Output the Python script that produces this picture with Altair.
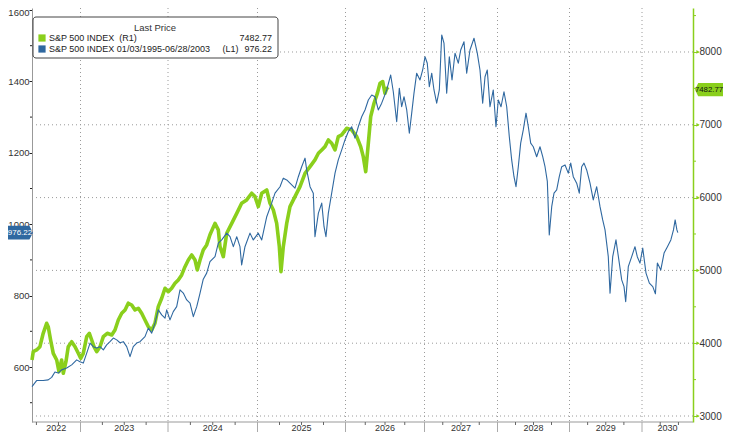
import altair as alt
import pandas as pd

# ---------------- data ----------------
# Blue: S&P 500 INDEX 01/03/1995-06/28/2003 overlaid on 2022-2030 (left axis)
BLUE = [
    (2022.45, 545), (2022.502, 562), (2022.577, 562), (2022.634, 564), (2022.673, 571),
    (2022.710, 586), (2022.748, 583), (2022.786, 592), (2022.843, 597), (2022.900, 606),
    (2022.957, 620), (2022.994, 615), (2023.032, 611), (2023.071, 639), (2023.109, 667),
    (2023.146, 657), (2023.185, 653), (2023.223, 657), (2023.261, 648), (2023.299, 662),
    (2023.337, 671), (2023.375, 681), (2023.414, 676), (2023.451, 668), (2023.489, 671),
    (2023.528, 657), (2023.566, 629), (2023.603, 657), (2023.642, 667), (2023.680, 671),
    (2023.737, 685), (2023.775, 709), (2023.814, 695), (2023.851, 723), (2023.889, 760),
    (2023.928, 746), (2023.966, 737), (2023.985, 760), (2024.022, 732), (2024.059, 755),
    (2024.097, 769), (2024.134, 816), (2024.171, 807), (2024.209, 788), (2024.246, 779),
    (2024.283, 741), (2024.321, 769), (2024.358, 807), (2024.394, 846), (2024.432, 863),
    (2024.469, 895), (2024.525, 909), (2024.562, 947), (2024.600, 956), (2024.656, 975),
    (2024.693, 965), (2024.730, 937), (2024.768, 965), (2024.804, 937), (2024.823, 886),
    (2024.860, 937), (2024.916, 975), (2024.953, 956), (2025.009, 975), (2025.048, 956),
    (2025.105, 1021), (2025.161, 1059), (2025.199, 1087), (2025.256, 1105), (2025.293, 1129),
    (2025.332, 1124), (2025.369, 1115), (2025.426, 1101), (2025.464, 1133), (2025.502, 1161),
    (2025.540, 1185), (2025.559, 1152), (2025.597, 1105), (2025.634, 1087), (2025.653, 965),
    (2025.692, 1031), (2025.730, 1059), (2025.756, 993), (2025.778, 965), (2025.805, 1031),
    (2025.843, 1087), (2025.881, 1143), (2025.918, 1180), (2025.957, 1208), (2025.994, 1236),
    (2026.035, 1259), (2026.078, 1273), (2026.120, 1241), (2026.162, 1273), (2026.205, 1301),
    (2026.247, 1320), (2026.289, 1348), (2026.332, 1362), (2026.373, 1357), (2026.415, 1320),
    (2026.458, 1339), (2026.522, 1376), (2026.572, 1418), (2026.605, 1371), (2026.648, 1287),
    (2026.681, 1381), (2026.711, 1329), (2026.741, 1357), (2026.775, 1320), (2026.808, 1255),
    (2026.838, 1311), (2026.867, 1367), (2026.901, 1423), (2026.943, 1404), (2026.977, 1432),
    (2027.007, 1469), (2027.038, 1451), (2027.066, 1385), (2027.099, 1423), (2027.130, 1376),
    (2027.167, 1339), (2027.203, 1376), (2027.236, 1530), (2027.267, 1507), (2027.304, 1367),
    (2027.340, 1469), (2027.377, 1404), (2027.418, 1479), (2027.463, 1451), (2027.496, 1488),
    (2027.541, 1511), (2027.578, 1423), (2027.623, 1488), (2027.678, 1521), (2027.723, 1479),
    (2027.760, 1432), (2027.797, 1339), (2027.829, 1413), (2027.860, 1432), (2027.897, 1329),
    (2027.942, 1376), (2027.979, 1273), (2028.011, 1348), (2028.049, 1329), (2028.090, 1371),
    (2028.128, 1329), (2028.164, 1245), (2028.197, 1180), (2028.229, 1133), (2028.257, 1105),
    (2028.289, 1161), (2028.322, 1227), (2028.358, 1264), (2028.396, 1311), (2028.428, 1273),
    (2028.461, 1227), (2028.497, 1217), (2028.544, 1189), (2028.590, 1217), (2028.628, 1189),
    (2028.660, 1161), (2028.692, 1120), (2028.719, 970), (2028.753, 1049), (2028.785, 1087),
    (2028.822, 1096), (2028.858, 1133), (2028.892, 1161), (2028.938, 1166), (2028.983, 1143),
    (2029.017, 1171), (2029.052, 1133), (2029.099, 1115), (2029.135, 1087), (2029.168, 1161),
    (2029.200, 1171), (2029.237, 1152), (2029.283, 1115), (2029.328, 1068), (2029.375, 1105),
    (2029.421, 1049), (2029.458, 1012), (2029.490, 984), (2029.535, 909), (2029.559, 807),
    (2029.596, 909), (2029.641, 956), (2029.687, 891), (2029.720, 844), (2029.752, 825),
    (2029.775, 783), (2029.811, 881), (2029.858, 909), (2029.903, 937), (2029.935, 909),
    (2029.972, 891), (2030.010, 933), (2030.055, 863), (2030.101, 835), (2030.148, 825),
    (2030.184, 805), (2030.211, 891), (2030.258, 872), (2030.303, 919), (2030.349, 937),
    (2030.396, 956), (2030.432, 984), (2030.455, 1012), (2030.479, 984), (2030.492, 976.22),
]

# Green: S&P 500 INDEX (right axis)
GREEN = [
    (2022.45, 3769), (2022.464, 3884), (2022.502, 3907), (2022.540, 3952), (2022.577, 4136),
    (2022.616, 4273), (2022.634, 4227), (2022.661, 4044), (2022.691, 3861), (2022.730, 3769),
    (2022.756, 3609), (2022.786, 3769), (2022.805, 3587), (2022.835, 3746), (2022.861, 3952),
    (2022.900, 4021), (2022.938, 3952), (2022.975, 3861), (2023.002, 3792), (2023.032, 3861),
    (2023.071, 4090), (2023.101, 4136), (2023.128, 4044), (2023.154, 3952), (2023.185, 3884),
    (2023.223, 3952), (2023.261, 4090), (2023.306, 4136), (2023.357, 4113), (2023.394, 4182),
    (2023.432, 4319), (2023.471, 4411), (2023.509, 4457), (2023.546, 4549), (2023.585, 4525),
    (2023.623, 4457), (2023.661, 4480), (2023.699, 4411), (2023.737, 4319), (2023.775, 4227),
    (2023.814, 4182), (2023.851, 4274), (2023.889, 4502), (2023.928, 4617), (2023.966, 4755),
    (2024.003, 4708), (2024.041, 4755), (2024.078, 4823), (2024.115, 4869), (2024.153, 4938),
    (2024.190, 5051), (2024.227, 5143), (2024.265, 5212), (2024.302, 5143), (2024.327, 5006),
    (2024.358, 5143), (2024.394, 5281), (2024.432, 5350), (2024.469, 5490), (2024.525, 5646),
    (2024.562, 5556), (2024.581, 5326), (2024.618, 5189), (2024.656, 5510), (2024.712, 5646),
    (2024.768, 5784), (2024.823, 5922), (2024.879, 5968), (2024.935, 6060), (2024.972, 6014),
    (2025.009, 5876), (2025.048, 6060), (2025.105, 6105), (2025.142, 5922), (2025.180, 5830),
    (2025.218, 5646), (2025.248, 5326), (2025.267, 4983), (2025.293, 5326), (2025.332, 5646),
    (2025.369, 5876), (2025.426, 6014), (2025.483, 6151), (2025.540, 6334), (2025.597, 6426),
    (2025.653, 6518), (2025.692, 6609), (2025.730, 6655), (2025.767, 6700), (2025.805, 6792),
    (2025.843, 6747), (2025.881, 6655), (2025.918, 6838), (2025.957, 6861), (2026.015, 6953),
    (2026.078, 6930), (2026.142, 6838), (2026.192, 6700), (2026.225, 6563), (2026.256, 6357),
    (2026.289, 6747), (2026.319, 7113), (2026.361, 7296), (2026.403, 7432), (2026.437, 7571),
    (2026.471, 7594), (2026.500, 7432), (2026.522, 7500), (2026.542, 7482.77),
]

YEARS = [2022, 2023, 2024, 2025, 2026, 2027, 2028, 2029, 2030]
YEAR_LABELS = [str(y) for y in YEARS]
X_BREAKS = [2022.45, 2023, 2024, 2025, 2026, 2027, 2028, 2029, 2030, 2030.70]
LEFT_TICKS = [600, 800, 1000, 1200, 1400, 1600]
LEFT_MINOR = [500, 700, 900, 1100, 1300, 1500]
RIGHT_TICKS = [3000, 4000, 5000, 6000, 7000, 8000]
RIGHT_MINOR = [3500, 4500, 5500, 6500, 7500, 8500]
LEGEND_TITLE = "Last Price"
SERIES = ["S&P 500 INDEX\u00a0\u00a0(R1)",
          "S&P 500 INDEX 01/03/1995-06/28/2003\u00a0\u00a0\u00a0\u00a0\u00a0(L1)"]
LAST_TEXT = ["7482.77", "976.22"]
LAST_VALUES = [7482.77, 976.22]

# ---------------- layout / style ----------------
W, H = 661, 414
X_RANGE = [0, 48.5, 136, 225.5, 313.5, 392.5, 465.5, 537.5, 610, 661]
GREEN_C = "#8ACF1C"
BLUE_C = "#2F68A0"
GRID_C = "#9a9a9a"
FONT = "Liberation Sans"

xs = alt.Scale(domain=X_BREAKS, range=X_RANGE, nice=False, zero=False)
ys_left = alt.Scale(domain=[445.95, 1605.6], nice=False, zero=False)
ys_right = alt.Scale(domain=[2917.6, 8604.3], nice=False, zero=False)

df_blue = pd.DataFrame(BLUE, columns=["t", "v"])
df_green = pd.DataFrame(GREEN, columns=["t", "v"])
one = pd.DataFrame({"a": [0]})

X = lambda: alt.X("t:Q", scale=xs, axis=None)

hgrid = alt.Chart(pd.DataFrame({"v": RIGHT_TICKS})).mark_rule(
    color=GRID_C, strokeDash=[1, 3], strokeWidth=1
).encode(y=alt.Y("v:Q", scale=ys_right, axis=None), x=alt.value(0), x2=alt.value(W))

vgrid = alt.Chart(pd.DataFrame({"t": YEARS[1:]})).mark_rule(
    color=GRID_C, strokeDash=[1, 3], strokeWidth=1
).encode(x=X(), y=alt.value(0), y2=alt.value(H))

green_line = alt.Chart(df_green).mark_line(
    color=GREEN_C, strokeWidth=3.6, strokeJoin="round"
).encode(
    x=X(),
    y=alt.Y("v:Q", scale=ys_right, axis=alt.Axis(
        orient="right", values=RIGHT_TICKS, title=None, grid=False, format="d",
        tickSize=5, tickColor=GREEN_C, domainColor=GREEN_C, domainWidth=1.5,
        labelColor="#333", labelFont=FONT, labelFontSize=10, labelPadding=1)),
)

blue_line = alt.Chart(df_blue).mark_line(
    color=BLUE_C, strokeWidth=1.1, strokeJoin="round"
).encode(
    x=X(),
    y=alt.Y("v:Q", scale=ys_left, axis=alt.Axis(
        orient="left", values=LEFT_TICKS, title=None, grid=False, format="d",
        tickSize=3, tickColor="#222", domainColor="#999", domainWidth=1,
        labelColor="#333", labelFont=FONT, labelFontSize=9.5, labelPadding=0,
        labelOffset={"condition": {"test": "datum.value === 1600", "value": 3}, "value": 0})),
)

left_minor = alt.Chart(pd.DataFrame({"v": LEFT_MINOR})).mark_rule(color="#222").encode(
    y=alt.Y("v:Q", scale=ys_left, axis=None), x=alt.value(-2), x2=alt.value(0))
right_minor = alt.Chart(pd.DataFrame({"v": RIGHT_MINOR})).mark_rule(color=GREEN_C).encode(
    y=alt.Y("v:Q", scale=ys_right, axis=None), x=alt.value(W), x2=alt.value(W + 3))
right_arrows = alt.Chart(pd.DataFrame({"v": RIGHT_TICKS})).mark_point(
    shape="triangle-right", filled=True, size=14, color=GREEN_C, opacity=1
).encode(y=alt.Y("v:Q", scale=ys_right, axis=None), x=alt.value(W + 5))

# last value badges
PATH_R = "M-1,0L-0.8,-0.42L1,-0.42L1,0.42L-0.8,0.42Z"
PATH_L = "M1,0L0.76,-0.46L-1,-0.46L-1,0.46L0.76,0.46Z"
df_r = pd.DataFrame({"v": [LAST_VALUES[0]], "label": [LAST_TEXT[0]]})
df_l = pd.DataFrame({"v": [LAST_VALUES[1]], "label": [LAST_TEXT[1]]})
badge_r = alt.Chart(df_r).mark_point(
    shape=PATH_R, filled=True, size=1024, color=GREEN_C, opacity=1, strokeWidth=0
).encode(y=alt.Y("v:Q", scale=ys_right, axis=None), x=alt.value(W + 18))
badge_r_txt = alt.Chart(df_r).mark_text(
    font=FONT, fontSize=7.8, color="#111", align="center", baseline="middle"
).encode(y=alt.Y("v:Q", scale=ys_right, axis=None), x=alt.value(W + 16), text="label:N")
badge_l = alt.Chart(df_l).mark_point(
    shape=PATH_L, filled=True, size=900, color=BLUE_C, opacity=1, strokeWidth=0
).encode(y=alt.Y("v:Q", scale=ys_left, axis=None), x=alt.value(-14))
badge_l_txt = alt.Chart(df_l).mark_text(
    font=FONT, fontSize=8, color="white", align="center", baseline="middle"
).encode(y=alt.Y("v:Q", scale=ys_left, axis=None), x=alt.value(-12), text="label:N")

# legend box
df_leg = pd.DataFrame({"row": [0, 1], "label": SERIES, "last": LAST_TEXT})
yrow = alt.Y("row:Q", scale=alt.Scale(domain=[0, 1], range=[30, 41]), axis=None)
leg_box = alt.Chart(one).mark_rect(
    fill="white", stroke="#444", strokeWidth=1, cornerRadius=3
).encode(x=alt.value(1), x2=alt.value(246), y=alt.value(9), y2=alt.value(50))
leg_title = alt.Chart(pd.DataFrame({"txt": [LEGEND_TITLE]})).mark_text(
    font=FONT, fontSize=9.5, color="#333", align="center", baseline="middle"
).encode(x=alt.value(123), y=alt.value(20), text="txt:N")
leg_sq = alt.Chart(df_leg).mark_square(size=52, filled=True, opacity=1).encode(
    x=alt.value(10), y=yrow,
    color=alt.Color("label:N", scale=alt.Scale(domain=SERIES, range=[GREEN_C, BLUE_C]), legend=None))
leg_lbl = alt.Chart(df_leg).mark_text(
    font=FONT, fontSize=9, color="#222", align="left", baseline="middle"
).encode(x=alt.value(17), y=yrow, text="label:N")
leg_val = alt.Chart(df_leg).mark_text(
    font=FONT, fontSize=9, color="#222", align="right", baseline="middle"
).encode(x=alt.value(240), y=yrow, text="last:N")

# bottom time axis
quarters = [y + q for y in YEARS for q in (0.25, 0.5, 0.75)
            if X_BREAKS[0] <= y + q <= X_BREAKS[-1]]
mids = [(max(y, X_BREAKS[0]) + min(y + 1, X_BREAKS[-1])) / 2 for y in YEARS]
baseline = alt.Chart(one).mark_rule(color="#999").encode(
    x=alt.value(0), x2=alt.value(W), y=alt.value(H))
separators = alt.Chart(pd.DataFrame({"t": YEARS[1:]})).mark_rule(color="#aaa").encode(
    x=X(), y=alt.value(H), y2=alt.value(H + 12))
qticks = alt.Chart(pd.DataFrame({"t": quarters})).mark_rule(color="#666").encode(
    x=X(), y=alt.value(H), y2=alt.value(H + 3))
year_lbls = alt.Chart(pd.DataFrame({"t": mids, "label": YEAR_LABELS})).mark_text(
    font=FONT, fontSize=9, color="#333", align="center", baseline="middle"
).encode(x=X(), y=alt.value(H + 6), text="label:N")

chart = alt.layer(
    hgrid, vgrid, green_line, blue_line, left_minor, right_minor, right_arrows,
    badge_r, badge_r_txt, badge_l, badge_l_txt,
    leg_box, leg_title, leg_sq, leg_lbl, leg_val,
    baseline, separators, qticks, year_lbls,
).resolve_scale(y="independent").properties(
    width=W, height=H,
    autosize=alt.AutoSizeParams(type="none"),
    padding={"left": 24, "top": 0, "right": 30, "bottom": 10},
).configure_view(stroke=None)

chart.save("out.html", embed_options={"renderer": "svg", "actions": False})
